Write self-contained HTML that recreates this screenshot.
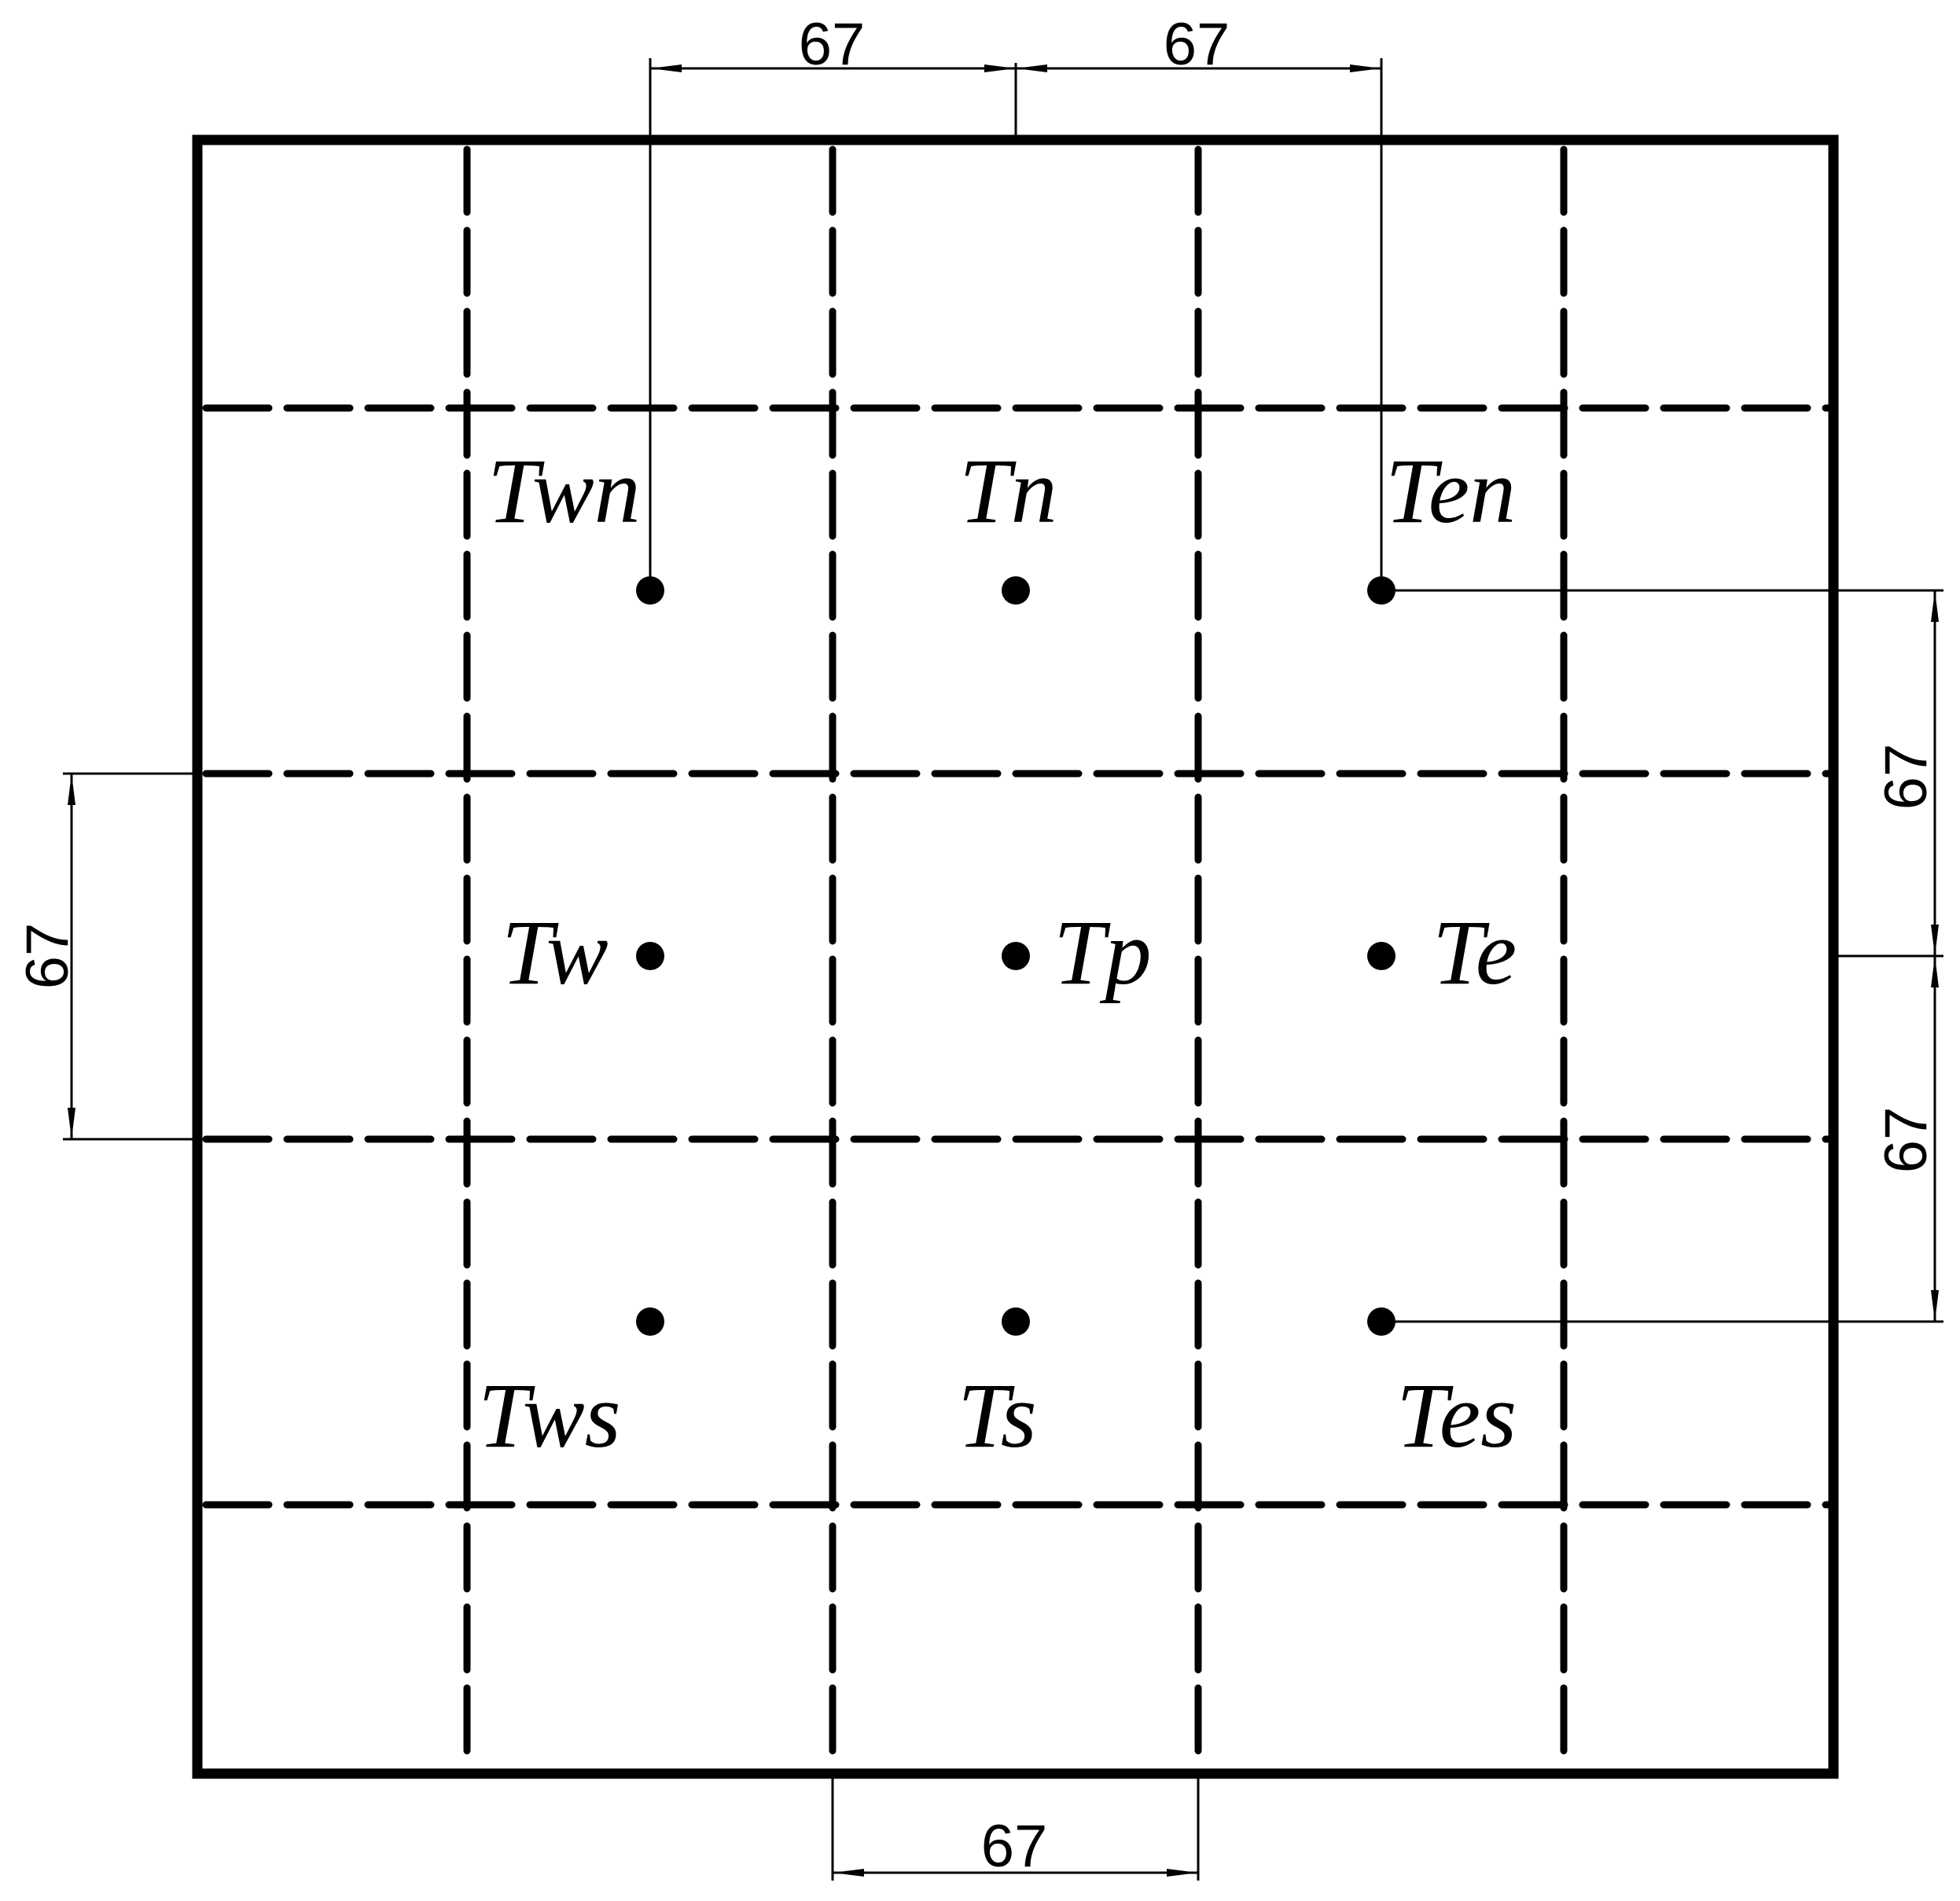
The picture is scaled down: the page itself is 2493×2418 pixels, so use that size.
<!DOCTYPE html>
<html><head><meta charset="utf-8"><style>
html,body{margin:0;padding:0;background:#fff;}
svg{display:block;}
.lab{font-family:"Liberation Serif",serif;font-style:italic;font-size:118px;fill:#000;}
.dim{font-family:"Liberation Sans",sans-serif;font-size:76px;fill:#000;}
</style></head><body>
<svg width="2493" height="2418" viewBox="0 0 2493 2418" xmlns="http://www.w3.org/2000/svg">
<defs>
<marker id="ar" viewBox="0 0 40 14" refX="40" refY="7" markerWidth="40" markerHeight="14" markerUnits="userSpaceOnUse" orient="auto-start-reverse">
<path d="M0,2 L40,7 L0,12 Z" fill="#000"/>
</marker>
</defs>
<g stroke="#000" stroke-width="9" stroke-dasharray="80 23" stroke-linecap="round" fill="none">
<line x1="594" y1="190" x2="594" y2="2250"/>
<line x1="1059" y1="190" x2="1059" y2="2250"/>
<line x1="1524" y1="190" x2="1524" y2="2250"/>
<line x1="1989" y1="190" x2="1989" y2="2250"/>
<line x1="262" y1="519" x2="2326" y2="519"/>
<line x1="262" y1="984" x2="2326" y2="984"/>
<line x1="262" y1="1449" x2="2326" y2="1449"/>
<line x1="262" y1="1914" x2="2326" y2="1914"/>
</g>
<rect x="251" y="178" width="2081" height="2078" fill="none" stroke="#000" stroke-width="13"/>
<g fill="#000">
<circle cx="827" cy="751" r="18"/><circle cx="1292" cy="751" r="18"/><circle cx="1757" cy="751" r="18"/>
<circle cx="827" cy="1216" r="18"/><circle cx="1292" cy="1216" r="18"/><circle cx="1757" cy="1216" r="18"/>
<circle cx="827" cy="1681" r="18"/><circle cx="1292" cy="1681" r="18"/><circle cx="1757" cy="1681" r="18"/>
</g>
<g stroke="#000" stroke-width="3" fill="none">
<line x1="827" y1="74" x2="827" y2="751"/>
<line x1="1757" y1="74" x2="1757" y2="751"/>
<line x1="1292" y1="80" x2="1292" y2="178"/>
<line x1="827" y1="87" x2="1292" y2="87" marker-start="url(#ar)" marker-end="url(#ar)"/>
<line x1="1292" y1="87" x2="1757" y2="87" marker-start="url(#ar)" marker-end="url(#ar)"/>
<line x1="1757" y1="751" x2="2472" y2="751"/>
<line x1="1757" y1="1681" x2="2472" y2="1681"/>
<line x1="2332" y1="1216" x2="2472" y2="1216"/>
<line x1="2461" y1="751" x2="2461" y2="1216" marker-start="url(#ar)" marker-end="url(#ar)"/>
<line x1="2461" y1="1216" x2="2461" y2="1681" marker-start="url(#ar)" marker-end="url(#ar)"/>
<line x1="80" y1="984" x2="251" y2="984"/>
<line x1="80" y1="1449" x2="251" y2="1449"/>
<line x1="91" y1="984" x2="91" y2="1449" marker-start="url(#ar)" marker-end="url(#ar)"/>
<line x1="1059" y1="2256" x2="1059" y2="2392"/>
<line x1="1524" y1="2256" x2="1524" y2="2392"/>
<line x1="1059" y1="2382" x2="1524" y2="2382" marker-start="url(#ar)" marker-end="url(#ar)"/>
</g>
<text class="dim" x="1058" y="82" text-anchor="middle">67</text>
<text class="dim" x="1522" y="82" text-anchor="middle">67</text>
<text class="dim" x="1290" y="2374" text-anchor="middle">67</text>
<text class="dim" transform="translate(2450,988) rotate(-90)" text-anchor="middle">67</text>
<text class="dim" transform="translate(2450,1450) rotate(-90)" text-anchor="middle">67</text>
<text class="dim" transform="translate(86,1216) rotate(-90)" text-anchor="middle">67</text>
<text class="lab" x="620" y="664">Twn</text>
<text class="lab" x="1220" y="664">Tn</text>
<text class="lab" x="1762" y="664">Ten</text>
<text class="lab" x="638" y="1251">Tw</text>
<text class="lab" x="1340" y="1251">Tp</text>
<text class="lab" x="1822" y="1251">Te</text>
<text class="lab" x="608" y="1840">Tws</text>
<text class="lab" x="1218" y="1840">Ts</text>
<text class="lab" x="1776" y="1840">Tes</text>
</svg>
</body></html>
